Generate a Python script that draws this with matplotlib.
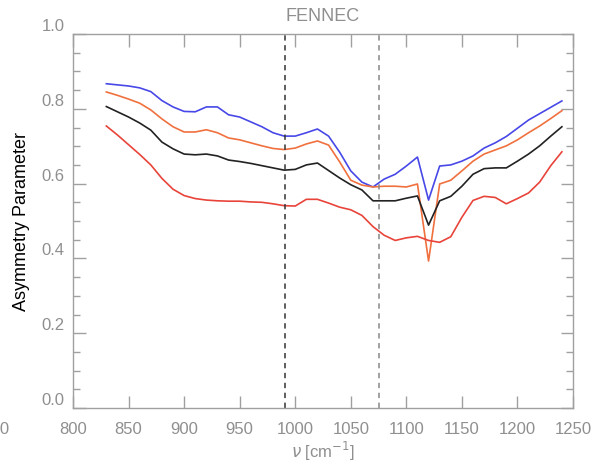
import numpy as np
import matplotlib.pyplot as plt
from matplotlib.ticker import MultipleLocator

# wavenumber grid (cm^-1)
wavenumber = np.arange(830, 1241, 10)

# asymmetry parameter curves
blue_curve = [0.867, 0.864, 0.861, 0.856, 0.846, 0.822, 0.805, 0.793, 0.792, 0.805,
              0.805, 0.784, 0.778, 0.765, 0.752, 0.736, 0.727, 0.727, 0.736, 0.746,
              0.727, 0.684, 0.634, 0.604, 0.591, 0.612, 0.625, 0.647, 0.671, 0.556,
              0.647, 0.650, 0.660, 0.674, 0.695, 0.709, 0.726, 0.748, 0.770, 0.787,
              0.804, 0.821]
orange_curve = [0.845, 0.836, 0.826, 0.815, 0.797, 0.773, 0.752, 0.738, 0.738, 0.744,
                0.736, 0.722, 0.717, 0.709, 0.701, 0.694, 0.691, 0.695, 0.706, 0.714,
                0.703, 0.658, 0.609, 0.596, 0.591, 0.593, 0.593, 0.591, 0.599, 0.393,
                0.599, 0.609, 0.634, 0.660, 0.679, 0.690, 0.701, 0.717, 0.736, 0.754,
                0.774, 0.795]
black_curve = [0.806, 0.792, 0.778, 0.762, 0.743, 0.711, 0.693, 0.679, 0.677, 0.679,
               0.674, 0.663, 0.659, 0.654, 0.648, 0.642, 0.636, 0.638, 0.650, 0.655,
               0.635, 0.615, 0.597, 0.583, 0.554, 0.554, 0.554, 0.561, 0.567, 0.489,
               0.554, 0.566, 0.593, 0.625, 0.640, 0.642, 0.642, 0.660, 0.679, 0.701,
               0.727, 0.752]
red_curve = [0.754, 0.730, 0.704, 0.678, 0.650, 0.614, 0.585, 0.568, 0.560, 0.556,
             0.554, 0.553, 0.553, 0.551, 0.550, 0.546, 0.541, 0.540, 0.558, 0.558,
             0.548, 0.537, 0.530, 0.515, 0.485, 0.462, 0.448, 0.455, 0.459, 0.448,
             0.443, 0.458, 0.510, 0.555, 0.566, 0.563, 0.546, 0.560, 0.575, 0.604,
             0.648, 0.685]

# marked wavenumbers
vlines = [991, 1075]

plt.rcParams['font.family'] = ['Liberation Sans', 'DejaVu Sans']
grey = '#8f8f8f'

fig = plt.figure(figsize=(6.01, 4.67), dpi=100)
ax = fig.add_axes([0.1215, 0.1263, 0.8319, 0.8009])

ax.plot(wavenumber, blue_curve, color='#4848e8', lw=1.2)
ax.plot(wavenumber, orange_curve, color='#f0703e', lw=1.2)
ax.plot(wavenumber, black_curve, color='#222222', lw=1.2)
ax.plot(wavenumber, red_curve, color='#e8443a', lw=1.2)

ax.axvline(vlines[0], color='#333333', lw=1.1, ls=(0, (3.5, 3)))
ax.axvline(vlines[1], color='#888888', lw=1.1, ls=(0, (3.5, 3)))

ax.set_xlim(800, 1250)
ax.set_ylim(0, 1.0)
ax.xaxis.set_major_locator(MultipleLocator(50))
ax.yaxis.set_major_locator(MultipleLocator(0.2))
ax.yaxis.set_minor_locator(MultipleLocator(0.05))
ax.yaxis.set_major_formatter(plt.FuncFormatter(lambda v, p: f'{v:.1f}'))

for s in ax.spines.values():
    s.set_color('#a0a0a0')
    s.set_linewidth(1.0)
ax.tick_params(which='both', direction='in', top=True, right=True, color='#a0a0a0',
               labelcolor=grey, labelsize=12)
ax.tick_params(which='major', length=9, width=1)
ax.tick_params(which='minor', length=5, width=1)
ax.tick_params(axis='x', pad=10)
ax.tick_params(axis='y', pad=6)
for lbl in ax.get_yticklabels():
    lbl.set_va('bottom')

ax.set_title('FENNEC', color=grey, fontsize=13, pad=9)
ax.set_xlabel(r'$\nu$ [cm$^{-1}$]', color=grey, fontsize=12, labelpad=2)
ax.set_ylabel('Asymmetry Parameter', color='black', fontsize=13, labelpad=8)

# clipped tick label from a neighbouring panel
fig.text(10 / 601, 1 - 429 / 467, '1250', color=grey, fontsize=12, ha='right', va='center')

fig.savefig('out.png', dpi=100)
